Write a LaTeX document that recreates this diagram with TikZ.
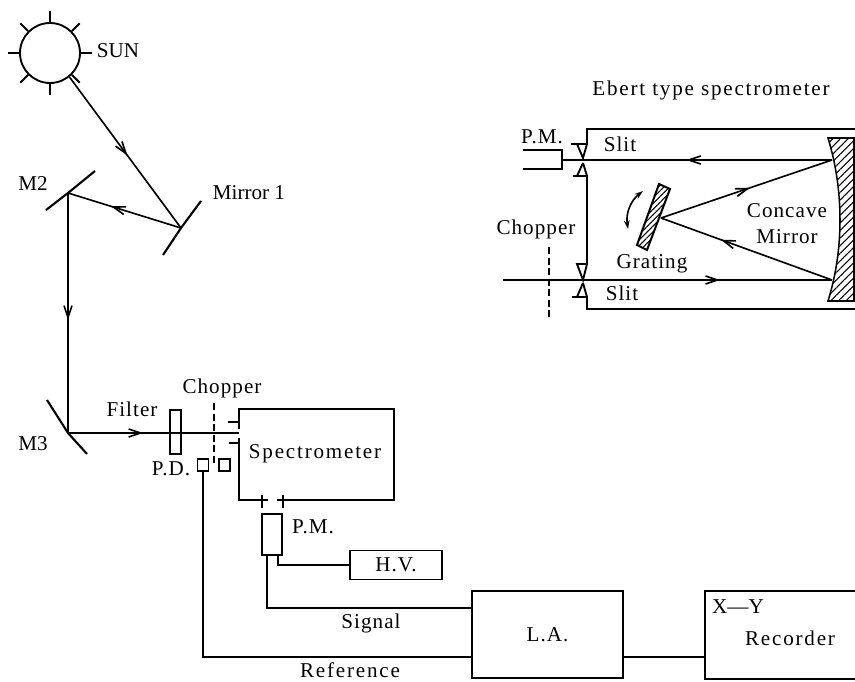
\documentclass[tikz,border=0pt]{standalone}
\usepackage{fontspec}
\setmainfont[LetterSpace=5]{Liberation Serif}
\newfontfamily\tightfont{Liberation Serif}
\newfontfamily\widefont[LetterSpace=8.5]{Liberation Serif}
\usetikzlibrary{arrows.meta,decorations.markings,patterns.meta}

\tikzset{
  midarrow/.style={postaction={decorate},decoration={markings,mark=at position #1 with {\arrow{Straight Barb[length=3.6mm,width=2.4mm]}}}}
}

\begin{document}
\begin{tikzpicture}[
      x=0.03cm,
      y=-0.03cm,
      font=\fontsize{18}{21}\selectfont,
      line/.style={line width=1.6pt},
      ray/.style={line width=1.4pt},
      mirror/.style={line width=1.8pt},
      chop/.style={line width=1.4pt, dash pattern=on 6pt off 3pt},
      box/.style={draw, line width=1.6pt, inner sep=0pt, minimum width=#1},
      label/.style={inner sep=0pt, align=center},
      tight/.style={font=\fontsize{18}{21}\tightfont},
      wide/.style={font=\fontsize{18}{21}\widefont},
      hatch/.style={draw, pattern={Lines[angle=45,distance=#1,line width=.9pt]}}
  ]
  \useasboundingbox (0,0) rectangle (855,682);
  % Pixel grid of the scan: x to the right, y downwards

  % --- Sun and mirrors ---
  \node[circle, draw, line width=1.6pt, minimum size=1.8cm, inner sep=0pt] (sun) at (50,53) {};
  \foreach \ang in {0,45,...,315}
    \draw[line] (sun.\ang) -- ++(-\ang:11);
  \node[label, tight] (sunlab) at (118,51) {SUN};

  \coordinate (m1) at (181,228);
  \coordinate (m2) at (68,193);
  \coordinate (m3) at (68,433);
  \draw[mirror] (163,255) -- (m1) -- (201,201);
  \draw[mirror] (46,210) -- (m2) -- (95,171);
  \draw[mirror] (47,400) -- (m3) -- (87,454);
  \node[label, tight] (m1lab) at (249,193) {Mirror 1};
  \node[label, tight] (m2lab) at (33,184) {M2};
  \node[label, tight] (m3lab) at (33,444) {M3};

  % --- Light path ---
  \draw[ray, midarrow=.52] (sun.-51) -- (m1);
  \draw[ray, midarrow=.62] (m1) -- (m2);
  \draw[ray, midarrow=.53] (m2) -- (m3);

  % --- Spectrometer front end ---
  \node[box=0.33cm, minimum height=1.32cm] (filter) at (175.5,432) {};
  \node[label] (filterlab) at (132,409) {Filter};
  \node[label] (chopperlab) at (222,388) {Chopper};
  \node[label] (pdlab) at (171,469) {P.D.};
  \node[box=0.33cm, minimum height=0.36cm] (pd) at (203,465) {};
  \node[box=0.33cm, minimum height=0.36cm] (led) at (224.5,465) {};
  \coordinate (slitin) at (239,433);
  \draw[ray, midarrow=.44] (m3) -- (slitin);
  \draw[chop] (214,403) -- (214,463);

  \draw[line] (239,429) |- (394,409) |- (277,500);
  \draw[line] (239,438) |- (268,500);
  \draw[line] (228,422) -- (239,422);
  \draw[line] (229,443) -- (239,443);
  \draw[line] (262,495) -- (262,508);
  \draw[line] (283,495) -- (283,508);
  \node[label, wide] (speclab) at (315,454) {Spectrometer};

  % --- Detector and electronics ---
  \node[box=0.6cm, minimum height=1.23cm] (pm) at (272,534.5) {};
  \node[label] (pmlab) at (313,527) {P.M.};
  \node[box=2.76cm, minimum height=0.87cm] (hv) at (396,565) {H.V.};
  \node[box=4.53cm, minimum height=2.61cm] (la) at (547.5,634.5) {L.A.};
  \draw[line] (855,591) -| (705,679) -- (855,679);
  \node[label, tight] (xylab) at (738,607) {X—Y};
  \node[label, wide] (reclab) at (790,638) {Recorder};
  \coordinate (recin) at (705,657);

  \draw[line] (pm.south -| 278,0) |- (hv.west);
  \draw[line] (pm.south -| 267,0) |- (la.west |- 0,608);
  \draw[line] (pd.south) |- (la.west |- 0,657);
  \draw[line] (la.east |- recin) -- (recin);
  \node[label] (signallab) at (371,623) {Signal};
  \node[label, wide] (reflab) at (350,670) {Reference};

  % --- Ebert type spectrometer ---
  \node[label, wide] (ebertlab) at (711,90) {Ebert type spectrometer};
  \draw[line] (855,129) -| (587,144) -- (571,144);
  \draw[line] (577,144) -- (583,158) -- (587,144);
  \draw[line] (573,176) -- (587,176) -- (587,264) -- (577,264) -- (583,280) -- (587,264);
  \draw[line] (583,163) -- (577,176);
  \draw[line] (583,163) -- (587,176);
  \draw[line] (572,297) -- (587,297) |- (855,309);
  \draw[line] (583,283) -- (577,297);
  \draw[line] (583,283) -- (587,297);
  \draw[line] (523,150) -| (562,169) -- (523,169);

  \path[hatch=4.6pt, line width=1.3pt] (828,138) .. controls (844,190) and (844,250) .. (828,301) -- (854,301) -- (854,138) -- cycle;
  \path[hatch=3.4pt, line width=1.7pt] (659,184) -- (670,189) -- (647,250) -- (637,245) -- cycle;

  \coordinate (gr) at (661,218);
  \coordinate (cmtop) at (832,160);
  \coordinate (cmbot) at (832,280);
  \draw[ray, midarrow=.54] (cmtop) -- (562,160);
  \draw[ray, midarrow=.66] (503,280) -- (cmbot);
  \draw[ray, midarrow=.52] (gr) -- (cmtop);
  \draw[ray, midarrow=.65] (cmbot) -- (gr);
  \draw[chop] (549,247) -- (549,318);
  \draw[ray, {Stealth[length=2.6mm,width=1.7mm]}-{Stealth[length=2.6mm,width=1.7mm]}] (643,191) to[bend right=30] (628,229);

  \node[label] (pmlabb) at (542,137) {P.M.};
  \node[label] (slitlab) at (620,144) {Slit};
  \node[label] (slitlabb) at (622,293) {Slit};
  \node[label] (chopperlabb) at (536,229) {Chopper};
  \node[label] (gratinglab) at (652,264) {Grating};
  \node[label] (cmlab) at (787,224) {Concave\\[1pt]Mirror};
\end{tikzpicture}
\end{document}
